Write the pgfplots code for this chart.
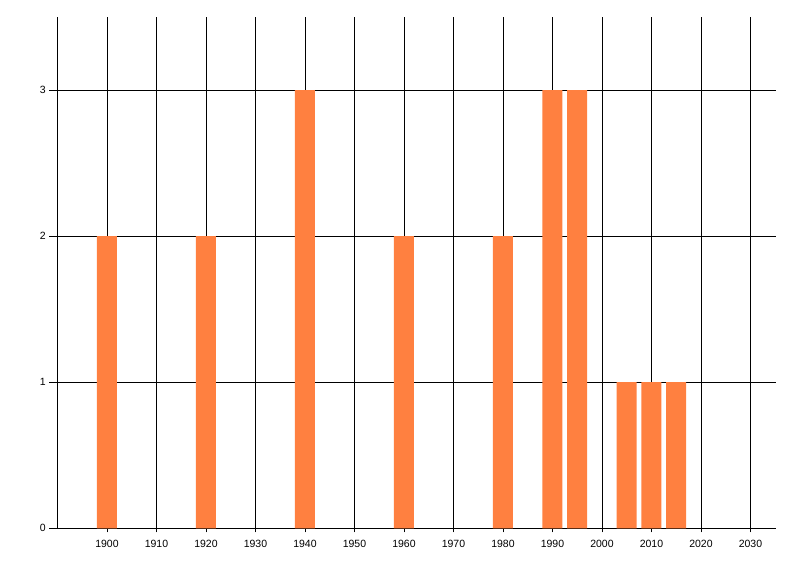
\documentclass[border=0pt]{standalone}
\usepackage{pgfplots}
\pgfplotsset{compat=1.18}
\usepackage{fontspec}
\setmainfont{Liberation Sans}
\definecolor{barorange}{RGB}{255,128,64}
\begin{document}
\fontsize{10.5pt}{12pt}\selectfont
\begin{tikzpicture}
\path[use as bounding box] (-57.5pt,-47.7pt) rectangle (742.5pt,528.3pt);
\begin{axis}[
  at={(0,0)}, anchor=south west,
  scale only axis,
  width=718.2pt, height=511.3pt,
  xmin=1890, xmax=2035.1,
  ymin=0, ymax=3.5,
  xtick={1900,1910,...,2030},
  ytick={0,1,2,3},
  axis lines*=left,
  axis line style={black, line width=0.9pt},
  grid=major,
  major grid style={black, line width=0.9pt},
  tick align=outside,
  major tick length=8pt,
  xtick style={black, line width=0.9pt, /pgfplots/major tick length=4pt},
  ytick style={black, line width=0.9pt},
  /pgf/number format/assume math mode=true,
  xticklabel style={/pgf/number format/1000 sep={}, font=\fontsize{10.5pt}{12pt}\selectfont},
  yticklabel style={font=\fontsize{10.5pt}{12pt}\selectfont},
  clip=false,
]
\addplot[ybar, bar width=20pt, fill=barorange, draw=none] coordinates {
  (1900,2) (1920,2) (1940,3) (1960,2) (1980,2)
  (1990,3) (1995,3) (2005,1) (2010,1) (2015,1)
};
\end{axis}
\end{tikzpicture}
\end{document}
